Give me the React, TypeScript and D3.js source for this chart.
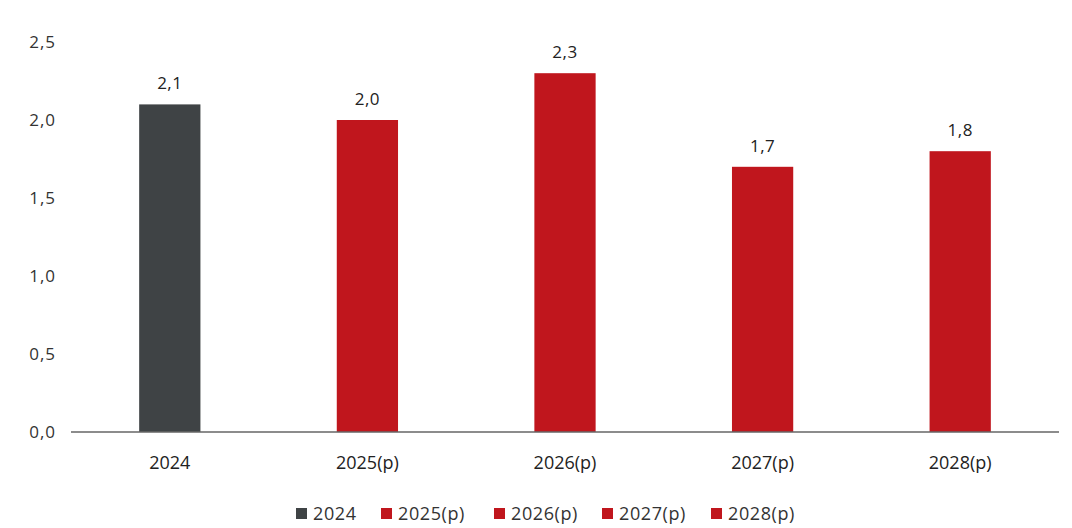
import React from "react";
import * as d3 from "d3";

const categories = ["2024", "2025(p)", "2026(p)", "2027(p)", "2028(p)"];
const values = [2.1, 2.0, 2.3, 1.7, 1.8];
const colors = ["#3f4345", "#c0161d", "#c0161d", "#c0161d", "#c0161d"];
const yTicks = [0, 0.5, 1.0, 1.5, 2.0, 2.5];

const W = 1072;
const H = 528;
const left = 71;
const right = 1059;
const top = 42;
const bottom = 432;
const font = "'Open Sans', 'Noto Sans', sans-serif";
const fmt = (v: number) => v.toFixed(1).replace(".", ",");

export default function App() {
  const x = d3.scaleBand<string>().domain(categories).range([left, right]).paddingInner(0.69).paddingOuter(0.345);
  const y = d3.scaleLinear().domain([0, 2.5]).range([bottom, top]);
  const legendX = [296, 381, 494, 602, 711];
  return (
    <svg width={W} height={H} style={{ position: "absolute", left: 0, top: 0, background: "#fff" }}>
      {yTicks.map((t) => (
        <text key={t} x={56} y={y(t)} dy="0.35em" textAnchor="end" fontFamily={font} fontSize={17} letterSpacing={1} fill="#333">
          {fmt(t)}
        </text>
      ))}
      {categories.map((c, i) => (
        <g key={c}>
          <rect x={x(c)} y={y(values[i])} width={x.bandwidth()} height={bottom - y(values[i])} fill={colors[i]} />
          <text x={(x(c) as number) + x.bandwidth() / 2} y={y(values[i]) - 15} textAnchor="middle" fontFamily={font} fontSize={17} letterSpacing={0.5} fill="#222">
            {fmt(values[i])}
          </text>
          <text x={(x(c) as number) + x.bandwidth() / 2} y={469} textAnchor="middle" fontFamily={font} fontSize={18} fill="#222">
            {c}
          </text>
        </g>
      ))}
      <line x1={left} x2={right} y1={bottom} y2={bottom} stroke="#666" strokeWidth={1.5} />
      {categories.map((c, i) => (
        <g key={"lg" + c} transform={`translate(${legendX[i]},0)`}>
          <rect x={0} y={508} width={11} height={11} fill={colors[i]} />
          <text x={17} y={520} fontFamily={font} fontSize={18} letterSpacing={0.6} fill="#333">
            {c}
          </text>
        </g>
      ))}
    </svg>
  );
}
